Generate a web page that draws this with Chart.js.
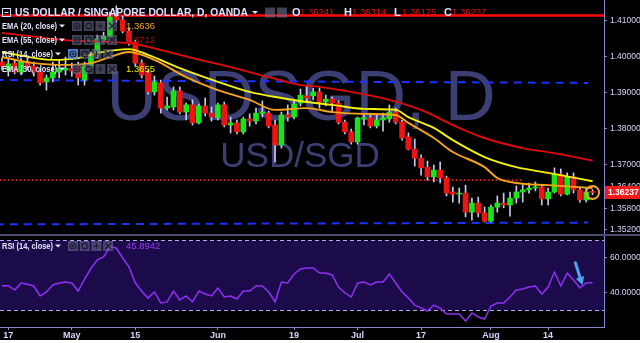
<!DOCTYPE html>
<html>
<head>
<meta charset="utf-8">
<script src="https://cdn.jsdelivr.net/npm/chart.js@4.4.0/dist/chart.umd.min.js"></script>
<style>
  html, body { margin: 0; padding: 0; background: #fff; }
  #wrap { position: relative; width: 640px; height: 340px; background: #000; overflow: hidden; }
  #priceBox { position: absolute; left: 0; top: 0; width: 640px; height: 234px; }
  #divider { position: absolute; left: 0; top: 234px; width: 640px; height: 2px; background: #4c4c70; }
  #rsiBox { position: absolute; left: 0; top: 236px; width: 640px; height: 104px; }
</style>
</head>
<body>
<div id="wrap">
  <div id="priceBox"><canvas id="priceChart"></canvas></div>
  <div id="divider"></div>
  <div id="rsiBox"><canvas id="rsiChart"></canvas></div>
</div>
<script>
// USD/SGD daily candles, 14 Apr - 23 Aug (bar index 0..93)
const opens = [
  1.3986, 1.3964, 1.3983, 1.3958, 1.3986, 1.3975, 1.3958, 1.3931, 1.3942, 1.3958,
  1.3964, 1.3969, 1.3972, 1.3936, 1.3975, 1.4006, 1.4047, 1.4058, 1.4111, 1.4103,
  1.4072, 1.4042, 1.3983, 1.3956, 1.3903, 1.3928, 1.3858, 1.3861, 1.3906, 1.3847,
  1.3867, 1.3817, 1.3864, 1.3844, 1.3831, 1.3867, 1.3811, 1.3817, 1.3792, 1.3828,
  1.3822, 1.3844, 1.3844, 1.3811, 1.3756, 1.3839, 1.3833, 1.3872, 1.3892, 1.3892,
  1.3903, 1.3875, 1.3883, 1.3872, 1.3819, 1.3792, 1.3764, 1.3828, 1.3831, 1.3808,
  1.3825, 1.3828, 1.3847, 1.3819, 1.3778, 1.3744, 1.3719, 1.3694, 1.3667, 1.3686,
  1.3664, 1.3625, 1.3619, 1.3622, 1.3569, 1.3594, 1.3567, 1.3544, 1.3583, 1.3594,
  1.3589, 1.3608, 1.3625, 1.3631, 1.3636, 1.3639, 1.3606, 1.3625, 1.3675, 1.3619,
  1.3667, 1.3631, 1.3603, 1.36241
];
const highs = [
  1.3997, 1.3997, 1.3992, 1.3997, 1.3997, 1.3986, 1.3969, 1.3950, 1.3986, 1.3992,
  1.4000, 1.3983, 1.3986, 1.3986, 1.4014, 1.4061, 1.4069, 1.4125, 1.4142, 1.4114,
  1.4081, 1.4047, 1.3992, 1.3964, 1.3947, 1.3936, 1.3889, 1.3917, 1.3917, 1.3872,
  1.3881, 1.3869, 1.3886, 1.3861, 1.3872, 1.3875, 1.3833, 1.3825, 1.3833, 1.3842,
  1.3858, 1.3878, 1.3850, 1.3825, 1.3847, 1.3867, 1.3881, 1.3911, 1.3919, 1.3914,
  1.3914, 1.3894, 1.3889, 1.3878, 1.3825, 1.3800, 1.3833, 1.3842, 1.3844, 1.3839,
  1.3844, 1.3867, 1.3858, 1.3825, 1.3789, 1.3772, 1.3728, 1.3711, 1.3700, 1.3708,
  1.3669, 1.3639, 1.3636, 1.3644, 1.3608, 1.3611, 1.3583, 1.3589, 1.3614, 1.3622,
  1.3625, 1.3642, 1.3644, 1.3650, 1.3653, 1.3644, 1.3636, 1.3692, 1.3689, 1.3678,
  1.3678, 1.3639, 1.3636, 1.36314
];
const lows = [
  1.3964, 1.3947, 1.3953, 1.3950, 1.3964, 1.3947, 1.3922, 1.3908, 1.3931, 1.3942,
  1.3950, 1.3947, 1.3922, 1.3922, 1.3969, 1.3997, 1.4042, 1.4053, 1.4097, 1.4067,
  1.4033, 1.3975, 1.3942, 1.3897, 1.3894, 1.3844, 1.3853, 1.3853, 1.3842, 1.3825,
  1.3811, 1.3814, 1.3836, 1.3822, 1.3825, 1.3806, 1.3789, 1.3786, 1.3786, 1.3808,
  1.3814, 1.3833, 1.3803, 1.3708, 1.3747, 1.3822, 1.3828, 1.3864, 1.3878, 1.3881,
  1.3858, 1.3864, 1.3847, 1.3814, 1.3786, 1.3758, 1.3758, 1.3811, 1.3803, 1.3803,
  1.3794, 1.3819, 1.3814, 1.3769, 1.3742, 1.3697, 1.3672, 1.3658, 1.3653, 1.3650,
  1.3614, 1.3597, 1.3594, 1.3556, 1.3547, 1.3556, 1.3542, 1.3542, 1.3569, 1.3581,
  1.3558, 1.3594, 1.3597, 1.3622, 1.3628, 1.3589, 1.3589, 1.3622, 1.3614, 1.3617,
  1.3622, 1.3597, 1.3597, 1.36175
];
const closes = [
  1.3975, 1.3981, 1.3958, 1.3986, 1.3975, 1.3958, 1.3928, 1.3942, 1.3958, 1.3969,
  1.3969, 1.3961, 1.3942, 1.3975, 1.4006, 1.4050, 1.4058, 1.4111, 1.4103, 1.4072,
  1.4042, 1.3983, 1.3950, 1.3903, 1.3931, 1.3858, 1.3864, 1.3906, 1.3847, 1.3867,
  1.3817, 1.3864, 1.3844, 1.3833, 1.3867, 1.3811, 1.3817, 1.3792, 1.3828, 1.3822,
  1.3844, 1.3847, 1.3808, 1.3756, 1.3839, 1.3833, 1.3869, 1.3894, 1.3886, 1.3903,
  1.3875, 1.3883, 1.3872, 1.3819, 1.3792, 1.3764, 1.3831, 1.3831, 1.3808, 1.3825,
  1.3831, 1.3847, 1.3819, 1.3775, 1.3744, 1.3719, 1.3692, 1.3667, 1.3686, 1.3664,
  1.3622, 1.3619, 1.3622, 1.3569, 1.3594, 1.3567, 1.3544, 1.3583, 1.3594, 1.3589,
  1.3608, 1.3625, 1.3631, 1.3636, 1.3639, 1.3606, 1.3625, 1.3675, 1.3619, 1.3667,
  1.3631, 1.3603, 1.3625, 1.36237
];

// moving averages (bar index, value)
const ema20Idx = [0, 5, 10, 14, 17, 20, 24, 29, 34, 39, 43, 48, 52, 57, 62, 64, 68, 71, 76, 78, 81, 86, 93];
const ema20 = [1.4000, 1.3983, 1.3978, 1.3983, 1.4000, 1.4014, 1.3992, 1.3944, 1.3908, 1.3881, 1.3853, 1.3858,
  1.3847, 1.3842, 1.3839, 1.3817, 1.3775, 1.3736, 1.3694, 1.3664, 1.3650, 1.3644, 1.3636];
const ema30Idx = [0, 8, 12, 15, 20, 23, 28, 34, 39, 44, 48, 52, 57, 62, 64, 68, 71, 76, 81, 86, 93];
const ema30 = [1.4014, 1.3992, 1.3997, 1.4011, 1.4022, 1.4006, 1.3969, 1.3931, 1.3903, 1.3886, 1.3875,
  1.3867, 1.3856, 1.3853, 1.3833, 1.3803, 1.3769, 1.3722, 1.3694, 1.3678, 1.3655];
const ema55Idx = [0, 10, 21, 23, 30, 36, 42, 47, 50, 55, 61, 66, 71, 76, 82, 87, 93];
const ema55 = [1.4067, 1.4047, 1.4036, 1.4028, 1.3997, 1.3972, 1.3944, 1.3922, 1.3917, 1.3903, 1.3881,
  1.3853, 1.3811, 1.3775, 1.3747, 1.3733, 1.3712];

// RSI (14) per bar
const rsi = [
  44.2, 44.2, 41.7, 45.7, 45.0, 44.0, 38.3, 40.6, 44.6, 45.7,
  46.3, 45.7, 41.1, 48.0, 54.0, 58.9, 60.6, 66.3, 65.7, 60.0,
  54.9, 45.7, 41.0, 37.1, 40.6, 34.3, 34.9, 41.1, 36.0, 38.3,
  34.9, 41.1, 39.4, 38.3, 42.9, 37.7, 38.3, 36.6, 41.1, 41.1,
  44.0, 44.0, 40.6, 34.9, 46.3, 45.7, 50.9, 53.7, 54.3, 54.3,
  51.4, 51.4, 50.3, 43.4, 40.0, 37.7, 45.7, 46.3, 44.6, 46.3,
  46.3, 50.9, 45.7, 40.6, 37.1, 33.1, 31.5, 29.7, 33.1, 31.4,
  28.0, 28.0, 28.0, 24.0, 28.6, 26.3, 25.1, 32.6, 34.3, 34.3,
  37.7, 41.7, 42.3, 43.4, 44.0, 39.4, 43.4, 52.0, 44.0, 51.4,
  47.4, 42.9, 45.7, 45.9
];
const rsiBand = [30, 70];

// drawn levels: [startIdx, startPrice, endIdx, endPrice]
const topLevel = [-1, 1.41153, 96, 1.41153];
const upperDash = [-1, 1.3936, 92.3, 1.3928];
const lowerDash = [-1, 1.3535, 92.3, 1.3540];
const redDotted = [-1, 1.3658, 82, 1.3658];

// axis ticks
const tickIndex = [1, 11, 21, 34, 46, 56, 66, 77, 86];
const tickLabels = ['17', 'May', '15', 'Jun', '19', 'Jul', '17', 'Aug', '14'];
const priceTicks = [1.41, 1.40, 1.39, 1.38, 1.37, 1.364, 1.358, 1.352];
const rsiTicks = [60, 40];

// legend texts
const legendNames = ['EMA (20, close)', 'EMA (55, close)', 'RSI (14, close)', 'EMA (30, close)'];
const legendValues = ['1.3636', '1.3712', '', '1.3655'];
const rsiValue = '45.8942';
const ohlc = [['O', '1.36241'], ['H', '1.36314'], ['L', '1.36175'], ['C', '1.36237']];
const arrowFrom = [90.3, 57.2];
const arrowTo = [91.4, 44.6];

const FONT = '"Liberation Sans", Arial, sans-serif';
const AXIS = '#8888cc';
const LABEL = '#d4d4fa';
const UP = '#18e418';
const DOWN = '#ee1414';
const xMin = -0.315, xMax = 94.8;

const levelLine = (lv, color, width, dash) => ({
  type: 'line',
  data: [{ x: lv[0], y: lv[1] }, { x: lv[2], y: lv[3] }],
  borderColor: color, borderWidth: width, borderDash: dash,
  pointRadius: 0, order: 5
});
const emaLine = (idx, vals, color) => ({
  type: 'line',
  data: idx.map((v, k) => ({ x: v, y: vals[k] })),
  borderColor: color, borderWidth: 1.9, pointRadius: 0,
  cubicInterpolationMode: 'monotone', order: 0
});

function drawIcons(ctx, x0, yc, highlight) {
  for (let k = 0; k < 4; k++) {
    const x = x0 + k * 11.7, cx = x + 5, cy = yc;
    ctx.fillStyle = (k === 0 && highlight) ? 'rgba(90,150,240,0.85)' : 'rgba(110,110,145,0.6)';
    ctx.fillRect(x, yc - 5, 10, 10);
    ctx.strokeStyle = 'rgba(25,25,45,0.9)';
    ctx.lineWidth = 1.2;
    ctx.beginPath();
    if (k === 0) {
      ctx.arc(cx, cy, 3, 0, Math.PI * 2);
      ctx.moveTo(cx + 1, cy);
      ctx.arc(cx, cy, 1, 0, Math.PI * 2);
    } else if (k === 1) {
      ctx.arc(cx, cy, 2.6, 0, Math.PI * 2);
      for (let a = 0; a < 8; a++) {
        const t = a * Math.PI / 4;
        ctx.moveTo(cx + Math.cos(t) * 2.6, cy + Math.sin(t) * 2.6);
        ctx.lineTo(cx + Math.cos(t) * 4, cy + Math.sin(t) * 4);
      }
    } else if (k === 2) {
      ctx.moveTo(cx - 3, cy); ctx.lineTo(cx + 3, cy);
      ctx.moveTo(cx, cy - 3); ctx.lineTo(cx, cy + 3);
    } else {
      ctx.moveTo(cx - 3, cy - 3); ctx.lineTo(cx + 3, cy + 3);
      ctx.moveTo(cx + 3, cy - 3); ctx.lineTo(cx - 3, cy + 3);
    }
    ctx.stroke();
  }
}

function caret(ctx, cx, yc) {
  ctx.beginPath();
  ctx.moveTo(cx - 3, yc - 1.5);
  ctx.lineTo(cx + 3, yc - 1.5);
  ctx.lineTo(cx, yc + 1.5);
  ctx.closePath();
  ctx.fill();
}

function legendRow(ctx, name, value, valueColor, yc, width, highlight) {
  ctx.font = 'bold 9.5px ' + FONT;
  ctx.fillStyle = '#e4e4ff';
  ctx.textAlign = 'left';
  ctx.textBaseline = 'middle';
  ctx.fillText(name, 2, yc, width);
  caret(ctx, width + 7, yc);
  drawIcons(ctx, width + 17, yc, highlight);
  if (value) {
    ctx.font = '9.5px ' + FONT;
    ctx.fillStyle = valueColor;
    ctx.fillText(value, 126, yc);
  }
}

const noPad = (s) => { s.paddingTop = 0; s.paddingBottom = 0; s.paddingLeft = 0; s.paddingRight = 0; };

// watermark behind the candles
const watermark = {
  id: 'watermark',
  beforeDatasetsDraw(chart) {
    const ctx = chart.ctx;
    ctx.save();
    ctx.fillStyle = '#3b3f74';
    ctx.textAlign = 'center';
    ctx.textBaseline = 'alphabetic';
    ctx.font = '70px ' + FONT;
    ctx.fillText('USDSGD, D', 301, 120);
    ctx.font = '35px ' + FONT;
    ctx.fillText('USD/SGD', 300, 167);
    ctx.restore();
  }
};

// header, legends, last price tag
const overlay = {
  id: 'overlay',
  afterDraw(chart) {
    const { ctx, scales: { x, y } } = chart;
    ctx.save();
    // last price marker
    const last = closes[closes.length - 1];
    const px = x.getPixelForValue(closes.length - 1), py = y.getPixelForValue(last);
    ctx.strokeStyle = '#f2a531';
    ctx.lineWidth = 2;
    ctx.beginPath();
    ctx.arc(px, py, 6.5, 0, Math.PI * 2);
    ctx.stroke();
    ctx.fillStyle = '#f01c1c';
    ctx.fillRect(605, py - 6.5, 35, 13);
    ctx.fillStyle = '#ffffff';
    ctx.font = 'bold 8.5px ' + FONT;
    ctx.textAlign = 'left';
    ctx.textBaseline = 'middle';
    ctx.fillText(last.toFixed(5), 608, py + 0.5);

    // title row
    ctx.strokeStyle = '#dcdcff';
    ctx.lineWidth = 1;
    ctx.strokeRect(2.5, 8.5, 8, 8);
    ctx.beginPath(); ctx.moveTo(4.5, 12.5); ctx.lineTo(8.5, 12.5); ctx.stroke();
    ctx.font = 'bold 11px ' + FONT;
    ctx.fillStyle = '#e0e0ff';
    ctx.fillText('US DOLLAR / SINGAPORE DOLLAR, D, OANDA', 15, 12.5, 233);
    caret(ctx, 255, 12.5);
    for (let k = 0; k < 2; k++) {
      ctx.fillStyle = 'rgba(110,110,145,0.6)';
      ctx.fillRect(265 + k * 12, 7.5, 10, 10);
    }
    const ohlcX = [292, 344, 394, 444];
    ohlc.forEach((p, k) => {
      ctx.font = 'bold 11px ' + FONT;
      ctx.fillStyle = '#e0e0ff';
      ctx.fillText(p[0], ohlcX[k], 12.5);
      ctx.font = '9.5px ' + FONT;
      ctx.fillStyle = '#e01010';
      ctx.fillText(p[1], ohlcX[k] + 8, 12.5);
    });

    // indicator legends
    const rowY = [26, 40, 54, 69];
    const rowColor = ['#f5a623', '#c80000', '', '#f0f000'];
    legendNames.forEach((n, k) => {
      legendRow(ctx, n, legendValues[k], rowColor[k], rowY[k], n.startsWith('RSI') ? 51 : 55, n.startsWith('RSI'));
    });
    ctx.restore();
  }
};

new Chart(document.getElementById('priceChart'), {
  type: 'bar',
  data: {
    datasets: [
      emaLine(ema20Idx, ema20, '#f7a21b'),
      emaLine(ema30Idx, ema30, '#f2f20c'),
      emaLine(ema55Idx, ema55, '#e00a0a'),
      {
        data: opens.map((o, i) => ({ x: i, y: [o, closes[i]] })),
        backgroundColor: opens.map((o, i) => closes[i] >= o ? UP : DOWN),
        barThickness: 5, minBarLength: 1, grouped: false, order: 1
      },
      {
        data: lows.map((l, i) => ({ x: i, y: [l, highs[i]] })),
        backgroundColor: '#c8c8ee',
        barThickness: 1, grouped: false, order: 2
      },
      levelLine(topLevel, '#ff0a0a', 2.5, []),
      levelLine(upperDash, '#1e32ff', 2, [8, 6]),
      levelLine(lowerDash, '#1e32ff', 2, [8, 6]),
      levelLine(redDotted, '#ff1e1e', 1.5, [2, 2])
    ]
  },
  options: {
    responsive: true,
    maintainAspectRatio: false,
    animation: false,
    layout: { padding: 0 },
    plugins: { legend: { display: false }, tooltip: { enabled: false } },
    scales: {
      x: {
        type: 'linear', display: false, min: xMin, max: xMax, offset: false,
        grid: { offset: false }
      },
      y: {
        position: 'right',
        min: 1.350833, max: 1.415833,
        afterBuildTicks: (s) => { s.ticks = priceTicks.map(v => ({ value: v })); },
        afterFit: (s) => { s.width = 36; noPad(s); },
        ticks: {
          color: LABEL, padding: 3, autoSkip: false,
          font: { size: 8.5, family: FONT },
          callback: (v) => Number(v).toFixed(5)
        },
        grid: { drawOnChartArea: false, drawTicks: true, tickLength: 3, color: AXIS },
        border: { display: true, color: AXIS }
      }
    }
  },
  plugins: [watermark, overlay]
});

// RSI pane
const rsiPane = {
  id: 'rsiPane',
  beforeDatasetsDraw(chart) {
    const { ctx, chartArea: a, scales: { y } } = chart;
    const yHi = Math.round(y.getPixelForValue(rsiBand[1])) + 0.5;
    const yLo = Math.round(y.getPixelForValue(rsiBand[0])) + 0.5;
    ctx.save();
    ctx.fillStyle = '#1c0b4b';
    ctx.fillRect(a.left, yHi, a.right - a.left, yLo - yHi);
    ctx.strokeStyle = '#b8aaf2';
    ctx.lineWidth = 1;
    ctx.setLineDash([4, 3]);
    [yHi, yLo].forEach(yy => {
      ctx.beginPath(); ctx.moveTo(a.left, yy); ctx.lineTo(a.right, yy); ctx.stroke();
    });
    ctx.restore();
  },
  afterDraw(chart) {
    const { ctx, scales: { x, y } } = chart;
    ctx.save();
    legendRow(ctx, 'RSI (14, close)', rsiValue, '#9a36ff', 10, 51, false);
    // hand drawn arrow
    const x1 = x.getPixelForValue(arrowFrom[0]), y1 = y.getPixelForValue(arrowFrom[1]);
    const x2 = x.getPixelForValue(arrowTo[0]), y2 = y.getPixelForValue(arrowTo[1]);
    const ang = Math.atan2(y2 - y1, x2 - x1);
    ctx.strokeStyle = '#4ea6f2';
    ctx.fillStyle = '#4ea6f2';
    ctx.lineWidth = 3;
    ctx.lineCap = 'round';
    ctx.beginPath();
    ctx.moveTo(x1, y1);
    ctx.lineTo(x2 - Math.cos(ang) * 5, y2 - Math.sin(ang) * 5);
    ctx.stroke();
    ctx.beginPath();
    ctx.moveTo(x2, y2);
    ctx.lineTo(x2 - Math.cos(ang - 0.5) * 9, y2 - Math.sin(ang - 0.5) * 9);
    ctx.lineTo(x2 - Math.cos(ang + 0.5) * 9, y2 - Math.sin(ang + 0.5) * 9);
    ctx.closePath();
    ctx.fill();
    ctx.restore();
  }
};

new Chart(document.getElementById('rsiChart'), {
  type: 'line',
  data: {
    datasets: [{
      data: rsi.map((v, i) => ({ x: i, y: v })),
      borderColor: '#9030f4',
      borderWidth: 1.5,
      pointRadius: 0,
      tension: 0
    }]
  },
  options: {
    responsive: true,
    maintainAspectRatio: false,
    animation: false,
    layout: { padding: 0 },
    plugins: { legend: { display: false }, tooltip: { enabled: false } },
    scales: {
      x: {
        type: 'linear', min: xMin, max: xMax, offset: false,
        afterBuildTicks: (s) => { s.ticks = tickIndex.map(v => ({ value: v })); },
        afterFit: (s) => { s.height = 13; noPad(s); },
        ticks: {
          color: LABEL, padding: 0, autoSkip: false, maxRotation: 0,
          font: { size: 9, weight: 'bold', family: FONT },
          callback: (v, k) => tickLabels[k]
        },
        grid: { drawOnChartArea: false, drawTicks: true, tickLength: 3, color: AXIS },
        border: { display: true, color: AXIS }
      },
      y: {
        position: 'right',
        min: 20.57, max: 72.57,
        afterBuildTicks: (s) => { s.ticks = rsiTicks.map(v => ({ value: v })); },
        afterFit: (s) => { s.width = 36; noPad(s); },
        ticks: {
          color: LABEL, padding: 3, autoSkip: false,
          font: { size: 8.5, family: FONT },
          callback: (v) => Number(v).toFixed(4)
        },
        grid: { drawOnChartArea: false, drawTicks: true, tickLength: 3, color: AXIS },
        border: { display: true, color: AXIS }
      }
    }
  },
  plugins: [rsiPane]
});
</script>
</body>
</html>
